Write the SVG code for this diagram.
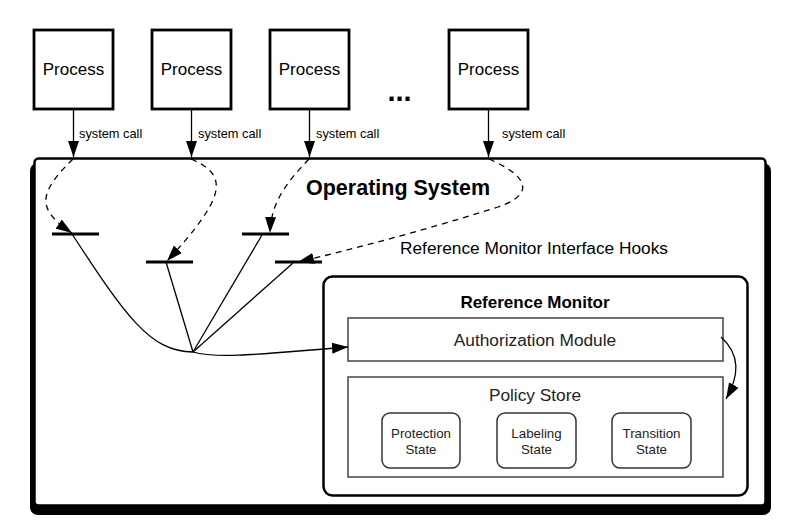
<svg xmlns="http://www.w3.org/2000/svg" width="790" height="530" viewBox="0 0 790 530">
<defs>
<marker id="ah" markerUnits="userSpaceOnUse" markerWidth="17" markerHeight="12" refX="16" refY="6" orient="auto">
<path d="M0,0.5 L16,6 L0,11.5 Z" fill="#000"/>
</marker>
<style>
text{font-family:"Liberation Sans",Arial,sans-serif;fill:#000}
.proc{fill:#fff;stroke:#000;stroke-width:2.8}
.pt{font-size:17px;text-anchor:middle}
.sc{font-size:12.8px}
.hook{stroke:#000;stroke-width:3}
.dash{fill:none;stroke:#000;stroke-width:1.3;stroke-dasharray:6,5}
.sol{fill:none;stroke:#000;stroke-width:1.3}
.box{fill:#fff;stroke:#444;stroke-width:1.5}
.st{fill:#fff;stroke:#333;stroke-width:1.5}
.stt{font-size:13.3px;text-anchor:middle;fill:#222}
.lbl{font-size:17.3px;text-anchor:middle;fill:#222}
</style>
</defs>
<rect width="790" height="530" fill="#fff"/>
<g id="os">
<rect x="30" y="163" width="741" height="352" rx="8" fill="#000"/>
<rect x="34.5" y="158.5" width="731" height="347" rx="4" fill="#fff" stroke="#000" stroke-width="2.5"/>
<text x="398" y="195" font-size="21.5" font-weight="bold" text-anchor="middle">Operating System</text>
<text x="400" y="254" font-size="17.3" fill="#222">Reference Monitor Interface Hooks</text>
</g>
<g id="p1"><rect class="proc" x="34" y="30" width="79" height="79"/><text class="pt" x="73.5" y="75">Process</text></g>
<g id="p2"><rect class="proc" x="152" y="30" width="79" height="79"/><text class="pt" x="191.5" y="75">Process</text></g>
<g id="p3"><rect class="proc" x="270" y="30" width="79" height="79"/><text class="pt" x="309.5" y="75">Process</text></g>
<g id="p4"><rect class="proc" x="449" y="30" width="79" height="79"/><text class="pt" x="488.5" y="75">Process</text></g>
<text id="ellipsis" x="399.5" y="101" font-size="29" font-weight="bold" text-anchor="middle">...</text>
<g id="hooks">
<line class="hook" x1="52" y1="234" x2="99" y2="234"/>
<line class="hook" x1="146" y1="262" x2="193" y2="262"/>
<line class="hook" x1="242" y1="234" x2="289" y2="234"/>
<line class="hook" x1="275" y1="262" x2="322" y2="262"/>
</g>
<g id="rm">
<rect x="323.5" y="276.5" width="424" height="219" rx="9" fill="#fff" stroke="#000" stroke-width="2.5"/>
<text x="535" y="308" font-size="17" font-weight="bold" text-anchor="middle">Reference Monitor</text>
</g>
<g id="auth">
<rect class="box" x="348" y="318" width="375" height="43"/>
<text class="lbl" x="535" y="345.5">Authorization Module</text>
</g>
<g id="policy">
<rect class="box" x="348" y="377" width="375" height="100"/>
<text class="lbl" x="535" y="400.5">Policy Store</text>
</g>
<g id="prot"><rect class="st" x="382" y="413" width="78" height="55" rx="8"/><text class="stt" x="421" y="438">Protection</text><text class="stt" x="421" y="454">State</text></g>
<g id="lab"><rect class="st" x="497" y="413" width="79" height="55" rx="8"/><text class="stt" x="536.5" y="438">Labeling</text><text class="stt" x="536.5" y="454">State</text></g>
<g id="trans"><rect class="st" x="612" y="413" width="79" height="55" rx="8"/><text class="stt" x="651.5" y="438">Transition</text><text class="stt" x="651.5" y="454">State</text></g>
<g id="connectors">
<line class="sol" x1="73.5" y1="109" x2="73.5" y2="157" marker-end="url(#ah)"/>
<line class="sol" x1="191.5" y1="109" x2="191.5" y2="157" marker-end="url(#ah)"/>
<line class="sol" x1="309.5" y1="109" x2="309.5" y2="157" marker-end="url(#ah)"/>
<line class="sol" x1="488.5" y1="109" x2="488.5" y2="157" marker-end="url(#ah)"/>
<text class="sc" x="79" y="138">system call</text>
<text class="sc" x="198" y="138">system call</text>
<text class="sc" x="316" y="138">system call</text>
<text class="sc" x="502" y="138">system call</text>
<path class="dash" d="M73,159 C36,195 38,210 72,233" marker-end="url(#ah)"/>
<path class="dash" d="M191,159 C228,175 228,195 167,261" marker-end="url(#ah)"/>
<path class="dash" d="M309,159 C283,186 271,205 270,233" marker-end="url(#ah)"/>
<path class="dash" d="M489,159 C528,176 536,194 498,207 Q400,238 298,262" marker-end="url(#ah)"/>
<path class="sol" d="M72,234 C125,315 150,352 193,352"/>
<line class="sol" x1="166" y1="262" x2="193" y2="352"/>
<line class="sol" x1="262" y1="235" x2="193" y2="352"/>
<line class="sol" x1="293" y1="263" x2="193" y2="352"/>
<path class="sol" d="M193,352 C220,360 280,352 348,347" marker-end="url(#ah)"/>
<path class="sol" d="M721,337 C741,355 739,376 726,399" marker-end="url(#ah)"/>
</g>
</svg>
